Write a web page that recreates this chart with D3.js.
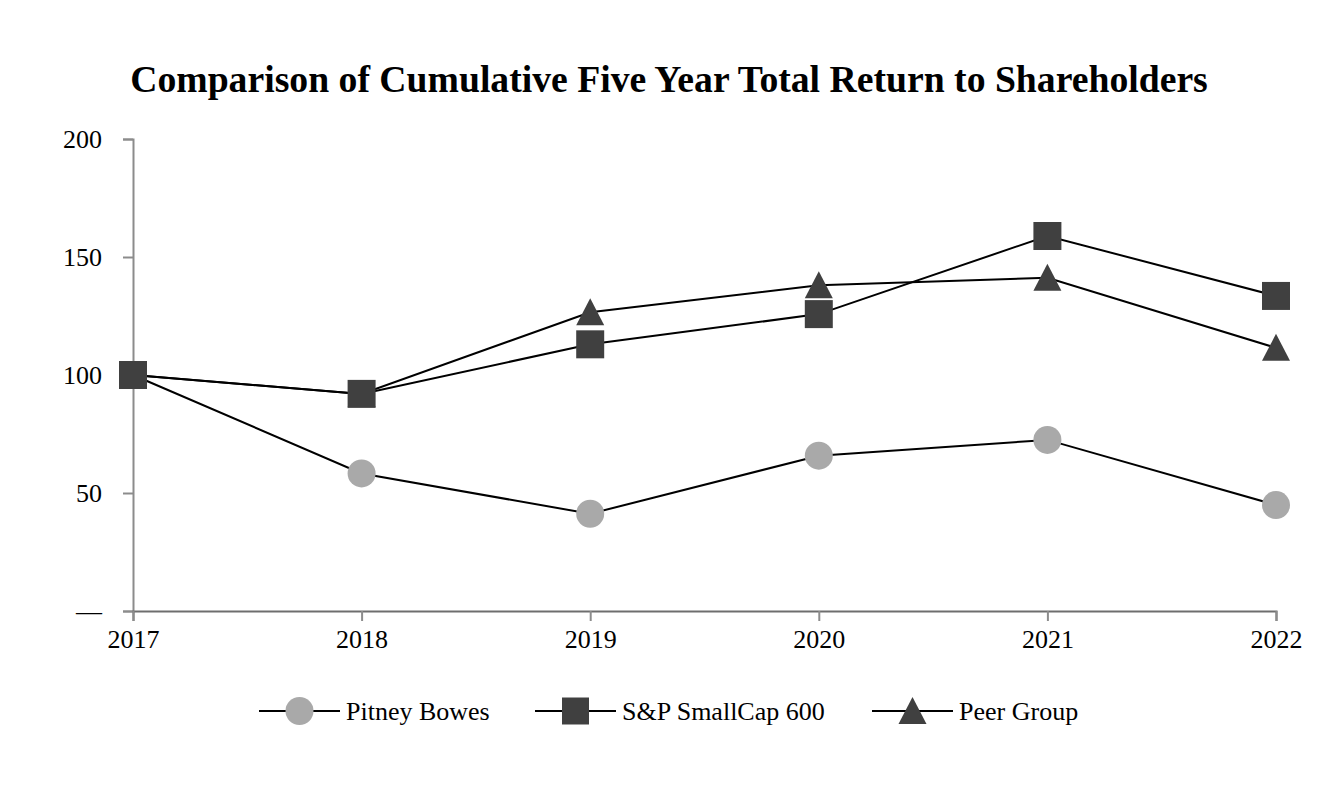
<!DOCTYPE html>
<html>
<head>
<meta charset="utf-8">
<script src="https://d3js.org/d3.v7.min.js"></script>
<style>
  body { margin: 0; background: #fff; }
  text { font-family: "Liberation Serif", "Times New Roman", serif; }
</style>
</head>
<body>
<div id="chart"></div>
<script>
const years = ["2017", "2018", "2019", "2020", "2021", "2022"];
const pitneyBowes = [100, 58.3, 41.2, 65.8, 72.5, 44.9];
const spSmallCap = [100, 92.0, 113.0, 125.8, 158.9, 133.5];
const peerGroup = [100, 92.0, 126.6, 138.0, 141.2, 111.5];
const yTicks = [0, 50, 100, 150, 200];
const seriesNames = ["Pitney Bowes", "S&P SmallCap 600", "Peer Group"];

const width = 1340, height = 800;
const svg = d3.select("#chart").append("svg").attr("width", width).attr("height", height);

const x = d3.scalePoint().domain(years).range([133, 1276]);
const y = d3.scaleLinear().domain([0, 200]).range([611, 139]);

// title
svg.append("text")
  .attr("x", 669).attr("y", 92)
  .attr("text-anchor", "middle")
  .attr("font-size", 37.7).attr("font-weight", "bold")
  .text("Comparison of Cumulative Five Year Total Return to Shareholders");

// y axis
const yAxis = svg.append("g").attr("transform", "translate(133,0)")
  .call(d3.axisLeft(y).tickValues(yTicks).tickSize(10).tickPadding(21)
    .tickFormat(d => d === 0 ? "—" : d));
yAxis.select(".domain").attr("stroke", "#8c8c8c").attr("stroke-width", 2);
yAxis.selectAll(".tick line").attr("stroke", "#8c8c8c").attr("stroke-width", 2);
yAxis.selectAll(".tick text").attr("font-size", 26).attr("fill", "#000")
  .attr("font-family", "Liberation Serif");

// x axis
const xAxis = svg.append("g").attr("transform", "translate(0,611)")
  .call(d3.axisBottom(x).tickSize(10).tickPadding(9));
xAxis.select(".domain").attr("stroke", "#6e6e6e").attr("stroke-width", 2);
xAxis.selectAll(".tick line").attr("stroke", "#8c8c8c").attr("stroke-width", 2);
xAxis.selectAll(".tick text").attr("font-size", 26).attr("fill", "#000")
  .attr("font-family", "Liberation Serif");

const line = d3.line().x((d, i) => x(years[i])).y(d => y(d));

const circleSym = d3.symbol().type(d3.symbolCircle).size(Math.PI * 14 * 14);
const squareSym = d3.symbol().type(d3.symbolSquare).size(28 * 28);
// triangle 28 wide, 27 tall
const triSym = () => "M0,-14L14,13L-14,13Z";

const series = [
  { name: seriesNames[2], values: peerGroup, sym: triSym, fill: "#404040" },
  { name: seriesNames[0], values: pitneyBowes, sym: circleSym, fill: "#a9a9a9" },
  { name: seriesNames[1], values: spSmallCap, sym: squareSym, fill: "#404040" }
];

series.forEach(s => {
  svg.append("path")
    .datum(s.values)
    .attr("d", line)
    .attr("fill", "none")
    .attr("stroke", "#000")
    .attr("stroke-width", 2);
});

series.forEach(s => {
  svg.selectAll(null)
    .data(s.values)
    .join("path")
    .attr("transform", (d, i) => `translate(${x(years[i])},${y(d)})`)
    .attr("d", s.sym)
    .attr("fill", s.fill);
});

// legend
const legendItems = [
  { name: seriesNames[0], sym: d3.symbol().type(d3.symbolCircle).size(Math.PI * 14 * 14), fill: "#a9a9a9", x: 259 },
  { name: seriesNames[1], sym: d3.symbol().type(d3.symbolSquare).size(27 * 27), fill: "#404040", x: 535 },
  { name: seriesNames[2], sym: () => "M0,-14L14,13L-14,13Z", fill: "#404040", x: 872 }
];
const legend = svg.append("g");
legendItems.forEach(l => {
  const g = legend.append("g").attr("transform", `translate(${l.x},711)`);
  g.append("line").attr("x1", 0).attr("x2", 81).attr("y1", 0).attr("y2", 0)
    .attr("stroke", "#000").attr("stroke-width", 2);
  g.append("path").attr("transform", "translate(40.5,0)").attr("d", l.sym).attr("fill", l.fill);
  g.append("text").attr("x", 87).attr("y", 9)
    .attr("font-size", 26).text(l.name);
});
</script>
</body>
</html>
